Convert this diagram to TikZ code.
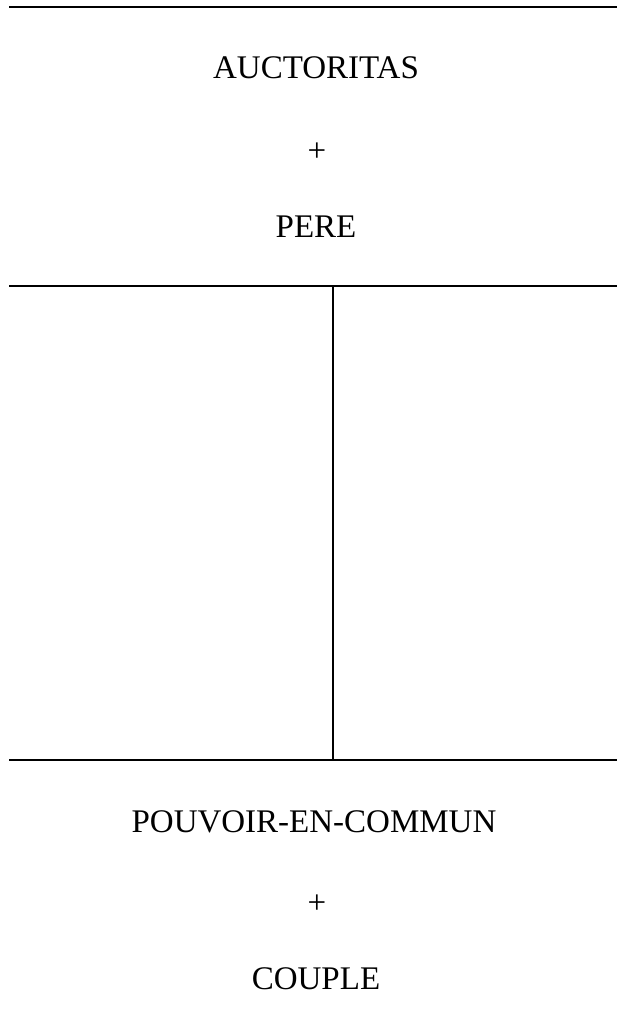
\documentclass[tikz,border=0pt]{standalone}
\usepackage{fontspec}
\setmainfont{Liberation Serif}
\begin{document}
\begin{tikzpicture}[x=1pt,y=1pt,
    word/.style={font=\fontsize{33}{40}\selectfont, inner sep=0pt, anchor=base},
    rule/.style={line width=2pt}]
      \useasboundingbox (0,0) rectangle (617,-1035);

      % RULES
      \coordinate (top l) at (9,-7.5);
      \coordinate (top r) at (617,-7.5);
      \coordinate (mid l) at (9,-286);
      \coordinate (mid r) at (617,-286);
      \coordinate (bot l) at (9,-760);
      \coordinate (bot r) at (617,-760);
      \coordinate (split t) at (333,-286);
      \coordinate (split b) at (333,-760);

      % NOTES
      \node[word] (auct)    at (316,-79)  {AUCTORITAS};
      \node[word] (plus a)  at (317,-161) {+};
      \node[word] (pere)    at (316,-237) {PERE};
      \node[word] (pouvoir) at (314,-832) {POUVOIR-EN-COMMUN};
      \node[word] (plus b)  at (317,-913) {+};
      \node[word] (couple)  at (316,-989) {COUPLE};

      % LINES
      \draw[rule] (top l) -- (top r);
      \draw[rule] (mid l) -- (mid r);
      \draw[rule] (bot l) -- (bot r);
      \draw[rule] (split t) -- (split b);

\end{tikzpicture}
\end{document}
